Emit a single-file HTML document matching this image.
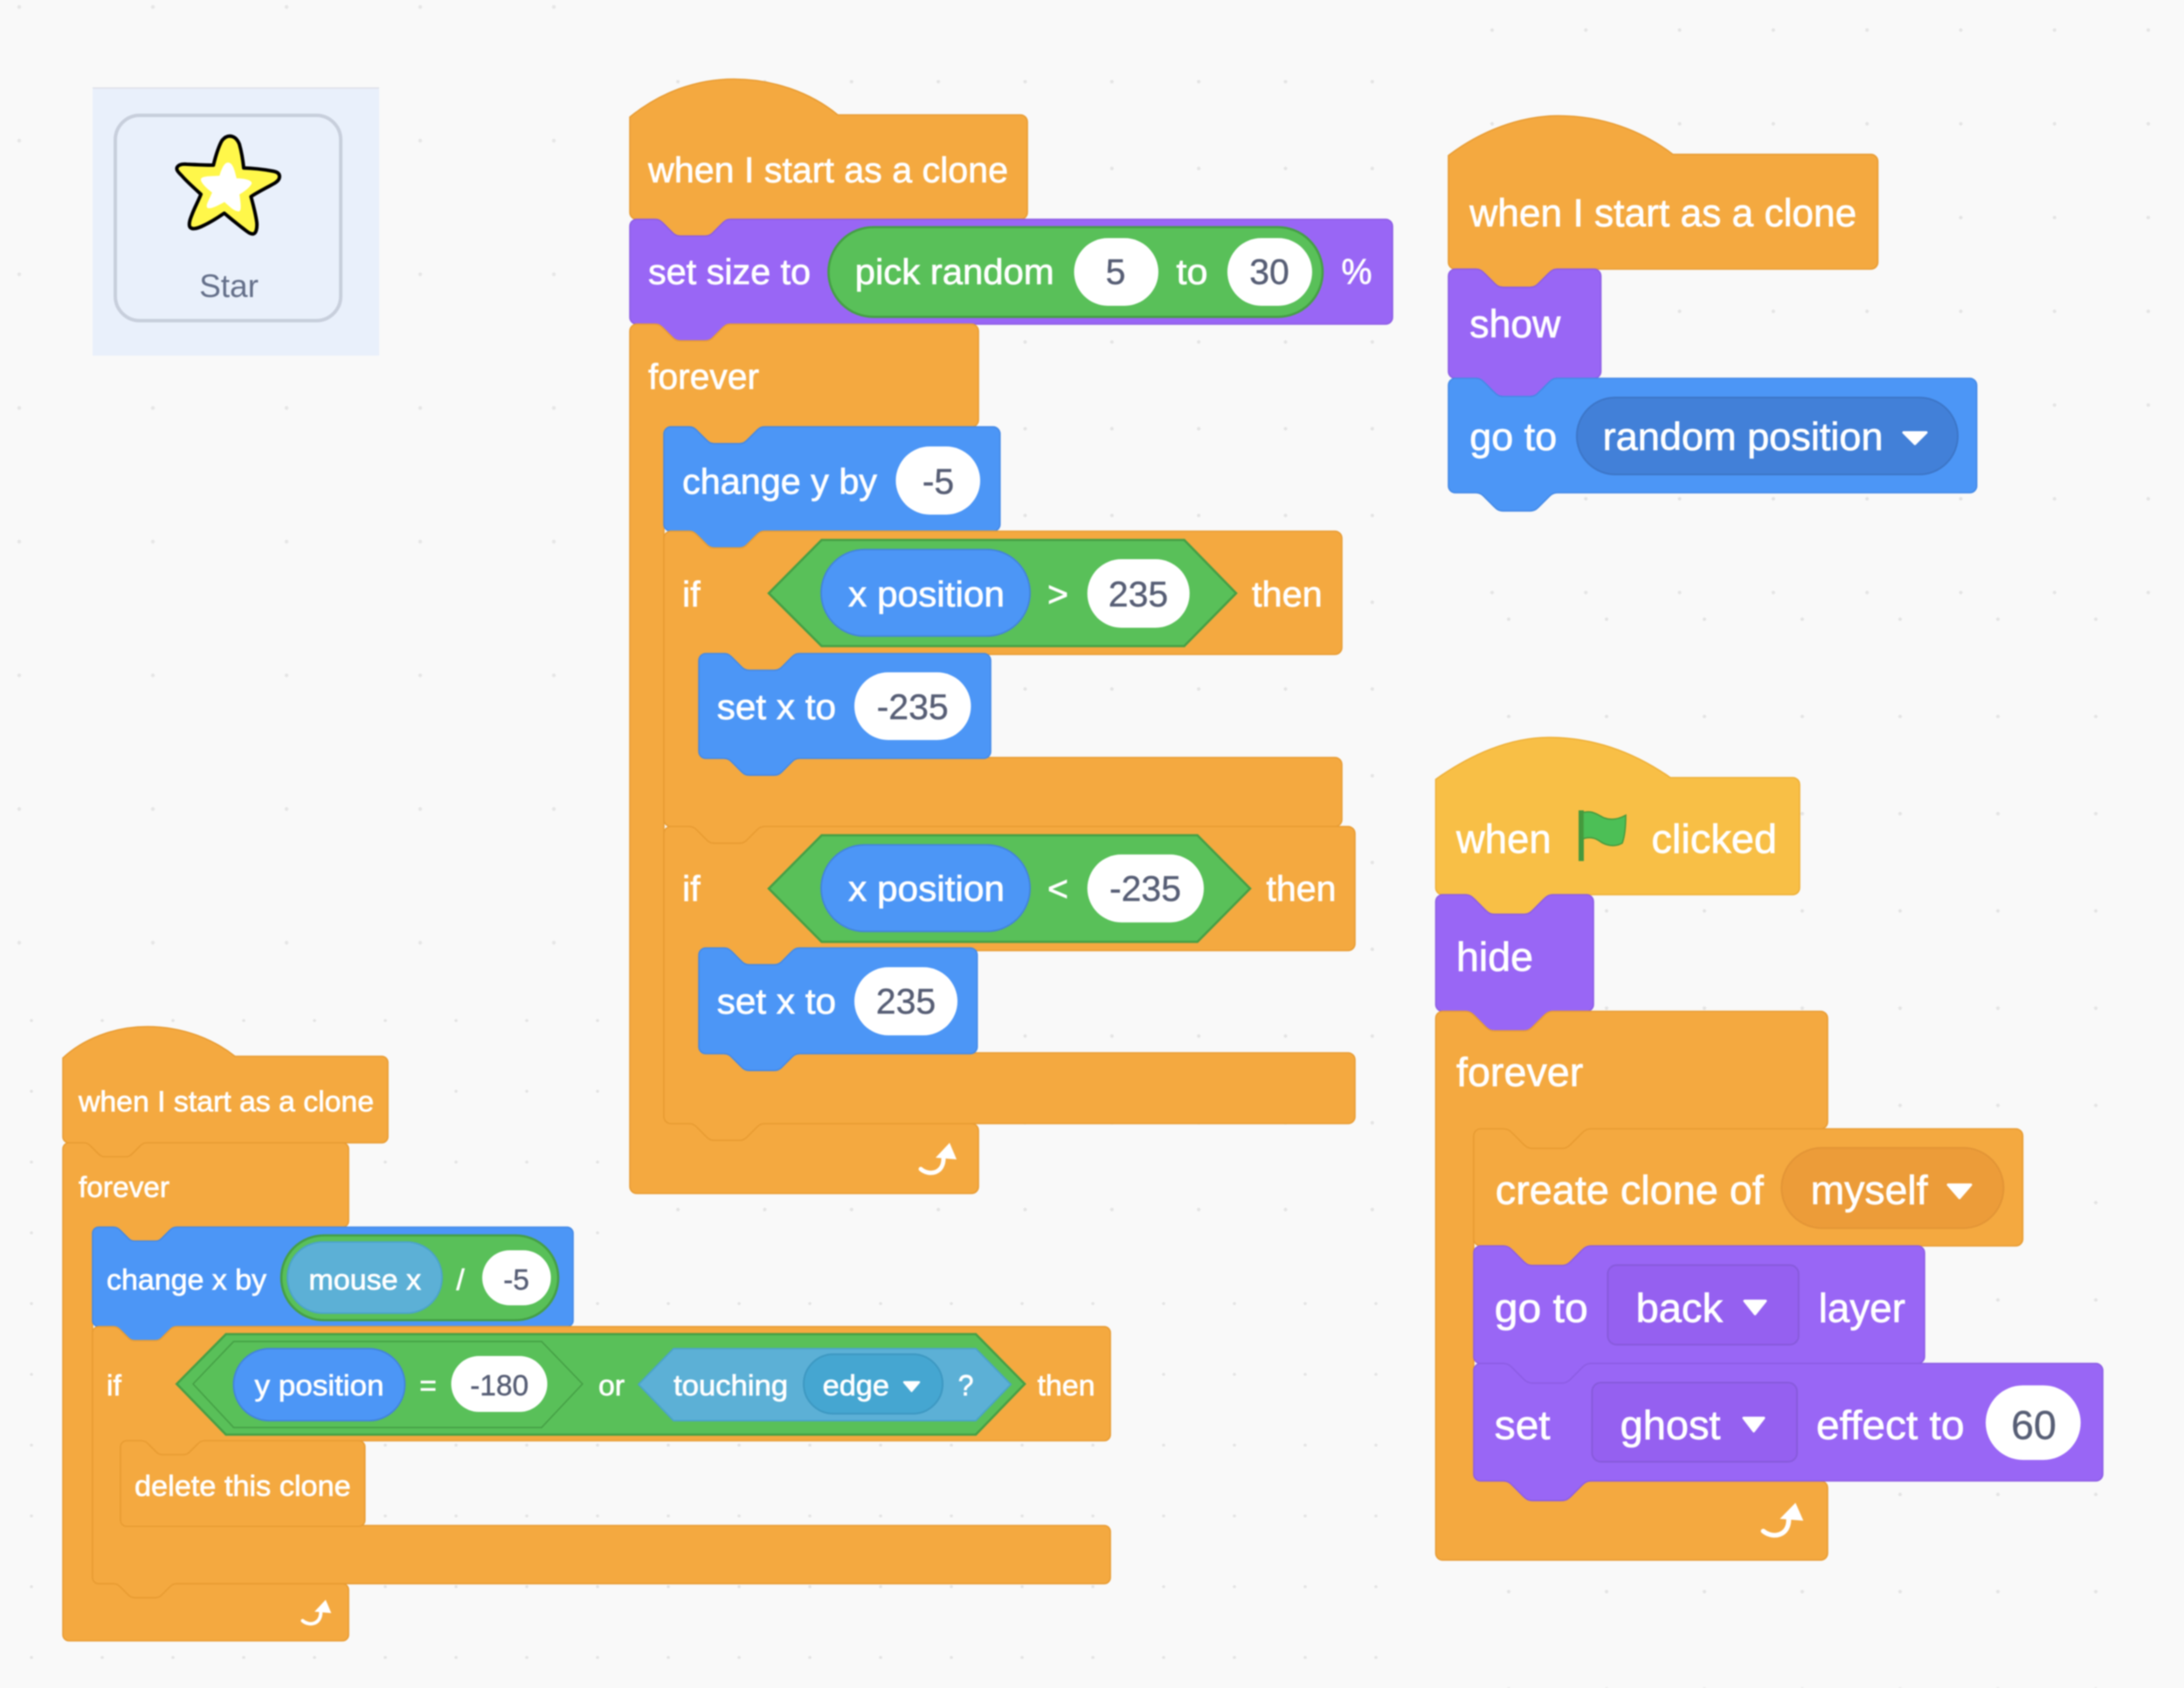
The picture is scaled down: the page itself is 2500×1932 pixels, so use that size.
<!DOCTYPE html>
<html><head><meta charset="utf-8"><title>Scratch blocks</title>
<style>
html,body{margin:0;padding:0;background:#f9f9f9}
svg{display:block;filter:blur(.7px)}
text{font-family:"Liberation Sans",Arial,sans-serif;fill:#fff;stroke:#fff;stroke-width:.7px}
.n{fill:#575e75;stroke:#575e75;stroke-width:.4px}
.m{text-anchor:middle}
.o{fill:#f4a940;stroke:#e89c33;stroke-width:1.6}
.p{fill:#9966f5;stroke:#8d5de4;stroke-width:1.6}
.b{fill:#4c96f6;stroke:#4489e6;stroke-width:1.6}
.y{fill:#f8bf46;stroke:#eeb038;stroke-width:1.6}
.g{fill:#59c059;stroke:#459f45;stroke-width:2.6}
.r{fill:#4c96f6;stroke:#4283dc;stroke-width:1.8}
.s{fill:#5cb0d6;stroke:#4ba3ca;stroke-width:1.8}
.w{fill:#fff}
</style></head>
<body>
<svg xmlns="http://www.w3.org/2000/svg" width="2500" height="1932" viewBox="0 0 2500 1932">
<defs>
<pattern id="d1" patternUnits="userSpaceOnUse" x="17" y="3" width="153" height="153"><circle cx="5" cy="5" r="2.2" fill="#e6e6e6"/></pattern>
<pattern id="d2" patternUnits="userSpaceOnUse" x="75.6" y="-10.8" width="99.35" height="99.3"><circle cx="5" cy="5" r="2" fill="#e4e4e4"/></pattern>
<pattern id="d3" patternUnits="userSpaceOnUse" x="31" y="1163" width="81" height="81"><circle cx="5" cy="5" r="1.8" fill="#e4e4e4"/></pattern>
<pattern id="d4" patternUnits="userSpaceOnUse" x="1703" y="29.4" width="107.3" height="107.3"><circle cx="5" cy="5" r="2" fill="#e4e4e4"/></pattern>
<pattern id="d5" patternUnits="userSpaceOnUse" x="1834" y="815" width="112" height="111.3"><circle cx="5" cy="5" r="2" fill="#e4e4e4"/></pattern>
</defs>
<rect width="2500" height="1932" fill="#f9f9f9"/>
<rect x="0" y="0" width="690" height="1160" fill="url(#d1)"/>
<rect x="690" y="0" width="940" height="1420" fill="url(#d2)"/>
<rect x="0" y="1160" width="690" height="772" fill="url(#d3)"/>
<rect x="690" y="1420" width="940" height="512" fill="url(#d3)"/>
<rect x="1630" y="0" width="870" height="700" fill="url(#d4)"/>
<rect x="1630" y="700" width="870" height="1232" fill="url(#d5)"/>

<!-- Sprite panel -->
<rect x="106" y="100" width="328" height="307" fill="#e9f0fb"/>
<rect x="106" y="100" width="328" height="1.5" fill="#dde1e8"/>
<rect x="132" y="132" width="258" height="235" rx="28" ry="28" fill="#e9f0fb" stroke="#c8cfdc" stroke-width="4"/>
<path d="M263.3 155.7C269 156 272 160 274 165C276 172 278 183 279 192.3C290 192.5 302 194 313 196C318 197 320 199 320 202C320 206 316 209 312 211C303 216 295 220 287.3 225C290 235 293 246 294 255C294.5 262 293 267 290 267.7C286 268 283 265 279 262C271 256 264 250 256.7 244C248 250 238 256 230 259.5C224 262 218.5 263 217 259C216 255 218 250 220 245C223 237 227 230 230 222.3C222 215 214 208 208 201C204 197 201 194 203 191C205 188 209 187.5 214 188C224 188.5 234 189 244.3 189C247 178 250 168 254 161C257 157 260 155.7 263.3 155.7Z" fill="#fff74a" stroke="#000" stroke-width="4" stroke-linejoin="round"/>
<path d="M261 187C266 187 268 197 270 205C278 205 288 207 287 210C285 214 278 219 273 222C274 229 276 241 273 241C268 241 262 234 257 230C250 234 240 239 238 237C236 235 242 226 244 220C238 216 230 208 231 205C233 202 245 203 252 202C254 195 257 187 261 187Z" fill="#fff" stroke="#fff" stroke-width="2" stroke-linejoin="round"/>
<text x="262" y="340" font-size="37" class="m" style="fill:#65708a;stroke:none">Star</text>

<!-- Stack A -->
<g font-size="41">
<path class="o" d="M721 134C755 106 797 90.5 840 90.5C885 90.5 928 106 959 131.5H1168a8 8 0 0 1 8 8V243a8 8 0 0 1-8 8H836.2c-4.8 0-7.2 2.4-9.6 4.8l-9.6 9.6c-2.4 2.4-4.8 4.8-9.6 4.8h-28.8c-4.8 0-7.2-2.4-9.6-4.8l-9.6-9.6c-2.4-2.4-4.8-4.8-9.6-4.8H729a8 8 0 0 1-8-8Z"/>
<path class="p" d="M721 259a8 8 0 0 1 8-8H749.8c4.8 0 7.2 2.4 9.6 4.8l9.6 9.6c2.4 2.4 4.8 4.8 9.6 4.8h28.8c4.8 0 7.2-2.4 9.6-4.8l9.6-9.6c2.4-2.4 4.8-4.8 9.6-4.8H1586a8 8 0 0 1 8 8V363a8 8 0 0 1-8 8H836.2c-4.8 0-7.2 2.4-9.6 4.8l-9.6 9.6c-2.4 2.4-4.8 4.8-9.6 4.8h-28.8c-4.8 0-7.2-2.4-9.6-4.8l-9.6-9.6c-2.4-2.4-4.8-4.8-9.6-4.8H729a8 8 0 0 1-8-8Z"/>
<path class="o" d="M721 379a8 8 0 0 1 8-8H749.8c4.8 0 7.2 2.4 9.6 4.8l9.6 9.6c2.4 2.4 4.8 4.8 9.6 4.8h28.8c4.8 0 7.2-2.4 9.6-4.8l9.6-9.6c2.4-2.4 4.8-4.8 9.6-4.8H1112a8 8 0 0 1 8 8V480.6a8 8 0 0 1-8 8H875.2c-4.8 0-7.2 2.4-9.6 4.8l-9.6 9.6c-2.4 2.4-4.8 4.8-9.6 4.8h-28.8c-4.8 0-7.2-2.4-9.6-4.8l-9.6-9.6c-2.4-2.4-4.8-4.8-9.6-4.8H768a8 8 0 0 0-8 8V1278a8 8 0 0 0 8 8H788.8c4.8 0 7.2 2.4 9.6 4.8l9.6 9.6c2.4 2.4 4.8 4.8 9.6 4.8h28.8c4.8 0 7.2-2.4 9.6-4.8l9.6-9.6c2.4-2.4 4.8-4.8 9.6-4.8H1112a8 8 0 0 1 8 8V1358a8 8 0 0 1-8 8H729a8 8 0 0 1-8-8Z"/>
<path class="b" d="M760 496.6a8 8 0 0 1 8-8H788.8c4.8 0 7.2 2.4 9.6 4.8l9.6 9.6c2.4 2.4 4.8 4.8 9.6 4.8h28.8c4.8 0 7.2-2.4 9.6-4.8l9.6-9.6c2.4-2.4 4.8-4.8 9.6-4.8H1136.7a8 8 0 0 1 8 8V600a8 8 0 0 1-8 8H875.2c-4.8 0-7.2 2.4-9.6 4.8l-9.6 9.6c-2.4 2.4-4.8 4.8-9.6 4.8h-28.8c-4.8 0-7.2-2.4-9.6-4.8l-9.6-9.6c-2.4-2.4-4.8-4.8-9.6-4.8H768a8 8 0 0 1-8-8Z"/>
<path class="o" d="M760 616a8 8 0 0 1 8-8H788.8c4.8 0 7.2 2.4 9.6 4.8l9.6 9.6c2.4 2.4 4.8 4.8 9.6 4.8h28.8c4.8 0 7.2-2.4 9.6-4.8l9.6-9.6c2.4-2.4 4.8-4.8 9.6-4.8H1528a8 8 0 0 1 8 8V741a8 8 0 0 1-8 8H915.2c-4.8 0-7.2 2.4-9.6 4.8l-9.6 9.6c-2.4 2.4-4.8 4.8-9.6 4.8h-28.8c-4.8 0-7.2-2.4-9.6-4.8l-9.6-9.6c-2.4-2.4-4.8-4.8-9.6-4.8H808a8 8 0 0 0-8 8V859a8 8 0 0 0 8 8H828.8c4.8 0 7.2 2.4 9.6 4.8l9.6 9.6c2.4 2.4 4.8 4.8 9.6 4.8h28.8c4.8 0 7.2-2.4 9.6-4.8l9.6-9.6c2.4-2.4 4.8-4.8 9.6-4.8H1528a8 8 0 0 1 8 8V938a8 8 0 0 1-8 8H875.2c-4.8 0-7.2 2.4-9.6 4.8l-9.6 9.6c-2.4 2.4-4.8 4.8-9.6 4.8h-28.8c-4.8 0-7.2-2.4-9.6-4.8l-9.6-9.6c-2.4-2.4-4.8-4.8-9.6-4.8H768a8 8 0 0 1-8-8Z"/>
<path class="b" d="M800 756a8 8 0 0 1 8-8H828.8c4.8 0 7.2 2.4 9.6 4.8l9.6 9.6c2.4 2.4 4.8 4.8 9.6 4.8h28.8c4.8 0 7.2-2.4 9.6-4.8l9.6-9.6c2.4-2.4 4.8-4.8 9.6-4.8H1126a8 8 0 0 1 8 8V860a8 8 0 0 1-8 8H915.2c-4.8 0-7.2 2.4-9.6 4.8l-9.6 9.6c-2.4 2.4-4.8 4.8-9.6 4.8h-28.8c-4.8 0-7.2-2.4-9.6-4.8l-9.6-9.6c-2.4-2.4-4.8-4.8-9.6-4.8H808a8 8 0 0 1-8-8Z"/>
<path class="o" d="M760 954a8 8 0 0 1 8-8H788.8c4.8 0 7.2 2.4 9.6 4.8l9.6 9.6c2.4 2.4 4.8 4.8 9.6 4.8h28.8c4.8 0 7.2-2.4 9.6-4.8l9.6-9.6c2.4-2.4 4.8-4.8 9.6-4.8H1543a8 8 0 0 1 8 8V1080a8 8 0 0 1-8 8H915.2c-4.8 0-7.2 2.4-9.6 4.8l-9.6 9.6c-2.4 2.4-4.8 4.8-9.6 4.8h-28.8c-4.8 0-7.2-2.4-9.6-4.8l-9.6-9.6c-2.4-2.4-4.8-4.8-9.6-4.8H808a8 8 0 0 0-8 8V1197a8 8 0 0 0 8 8H828.8c4.8 0 7.2 2.4 9.6 4.8l9.6 9.6c2.4 2.4 4.8 4.8 9.6 4.8h28.8c4.8 0 7.2-2.4 9.6-4.8l9.6-9.6c2.4-2.4 4.8-4.8 9.6-4.8H1543a8 8 0 0 1 8 8V1278a8 8 0 0 1-8 8H875.2c-4.8 0-7.2 2.4-9.6 4.8l-9.6 9.6c-2.4 2.4-4.8 4.8-9.6 4.8h-28.8c-4.8 0-7.2-2.4-9.6-4.8l-9.6-9.6c-2.4-2.4-4.8-4.8-9.6-4.8H768a8 8 0 0 1-8-8Z"/>
<path class="b" d="M800 1093a8 8 0 0 1 8-8H828.8c4.8 0 7.2 2.4 9.6 4.8l9.6 9.6c2.4 2.4 4.8 4.8 9.6 4.8h28.8c4.8 0 7.2-2.4 9.6-4.8l9.6-9.6c2.4-2.4 4.8-4.8 9.6-4.8H1110.6a8 8 0 0 1 8 8V1198a8 8 0 0 1-8 8H915.2c-4.8 0-7.2 2.4-9.6 4.8l-9.6 9.6c-2.4 2.4-4.8 4.8-9.6 4.8h-28.8c-4.8 0-7.2-2.4-9.6-4.8l-9.6-9.6c-2.4-2.4-4.8-4.8-9.6-4.8H808a8 8 0 0 1-8-8Z"/>

<text x="742" y="208.5" textLength="412" lengthAdjust="spacingAndGlyphs">when I start as a clone</text>
<text x="742" y="325" textLength="186" lengthAdjust="spacingAndGlyphs">set size to</text>
<rect class="g" x="948.4" y="260" width="565.6" height="102.7" rx="51.3"/>
<text x="978.7" y="325" textLength="228" lengthAdjust="spacingAndGlyphs">pick random</text>
<rect class="w" x="1229.5" y="272.5" width="96.5" height="77.5" rx="38.7"/>
<text class="n m" x="1277" y="325">5</text>
<text x="1346.5" y="325" textLength="36" lengthAdjust="spacingAndGlyphs">to</text>
<rect class="w" x="1405" y="272.5" width="97" height="77.5" rx="38.7"/>
<text class="n m" x="1453" y="325">30</text>
<text x="1535.5" y="325" textLength="35" lengthAdjust="spacingAndGlyphs">%</text>
<text x="742" y="445" textLength="127" lengthAdjust="spacingAndGlyphs">forever</text>
<text x="781" y="565" textLength="223" lengthAdjust="spacingAndGlyphs">change y by</text>
<rect class="w" x="1025.4" y="511" width="96.6" height="78" rx="39"/>
<text class="n m" x="1074" y="565">-5</text>

<text x="781" y="694">if</text>
<path class="g" d="M880 679L940.5 618H1355.6L1415 679L1355.6 739.5H940.5Z"/>
<rect class="r" x="940" y="629" width="239" height="99" rx="49.5"/>
<text x="971" y="694" textLength="179" lengthAdjust="spacingAndGlyphs">x position</text>
<text class="m" x="1211" y="694">&gt;</text>
<rect class="w" x="1244.7" y="640" width="117" height="78.5" rx="39"/>
<text class="n m" x="1303" y="694">235</text>
<text x="1433" y="694" textLength="80.7" lengthAdjust="spacingAndGlyphs">then</text>

<text x="820.6" y="823" textLength="136.4" lengthAdjust="spacingAndGlyphs">set x to</text>
<rect class="w" x="978" y="769.5" width="133.4" height="77.5" rx="38.7"/>
<text class="n m" x="1044.7" y="823">-235</text>

<text x="781" y="1031">if</text>
<path class="g" d="M880 1017L940.5 956H1370.7L1431 1017L1370.7 1078H940.5Z"/>
<rect class="r" x="940" y="967" width="239" height="99" rx="49.5"/>
<text x="971" y="1031" textLength="179" lengthAdjust="spacingAndGlyphs">x position</text>
<text class="m" x="1211" y="1031">&lt;</text>
<rect class="w" x="1244.7" y="978" width="133.3" height="77.7" rx="38.8"/>
<text class="n m" x="1311" y="1031">-235</text>
<text x="1449.5" y="1031" textLength="80" lengthAdjust="spacingAndGlyphs">then</text>

<text x="820.6" y="1160" textLength="136.4" lengthAdjust="spacingAndGlyphs">set x to</text>
<rect class="w" x="978" y="1107" width="118" height="78" rx="39"/>
<text class="n m" x="1037" y="1160">235</text>
<g transform="translate(1051 1308)"><path d="M3 30C12 38 30 36 29 16" fill="none" stroke="#fff" stroke-width="5" stroke-linecap="round"/><path d="M20 17L36 0L44 19Z" fill="#fff"/></g>
</g>

<!-- Stack B -->
<g font-size="44.3">
<path class="o" d="M1658 178C1695 150 1740 132.5 1784 132.5C1835 132.5 1880 150 1915 176.7H2141.5a8 8 0 0 1 8 8V300a8 8 0 0 1-8 8H1782.8c-5.2 0-7.8 2.6-10.4 5.2l-10.4 10.4c-2.6 2.6-5.2 5.2-10.4 5.2h-31.2c-5.2 0-7.8-2.6-10.4-5.2l-10.4-10.4c-2.6-2.6-5.2-5.2-10.4-5.2H1666a8 8 0 0 1-8-8Z"/>
<path class="p" d="M1658 316a8 8 0 0 1 8-8H1689.2c5.2 0 7.8 2.6 10.4 5.2l10.4 10.4c2.6 2.6 5.2 5.2 10.4 5.2h31.2c5.2 0 7.8-2.6 10.4-5.2l10.4-10.4c2.6-2.6 5.2-5.2 10.4-5.2H1824.5a8 8 0 0 1 8 8V425a8 8 0 0 1-8 8H1782.8c-5.2 0-7.8 2.6-10.4 5.2l-10.4 10.4c-2.6 2.6-5.2 5.2-10.4 5.2h-31.2c-5.2 0-7.8-2.6-10.4-5.2l-10.4-10.4c-2.6-2.6-5.2-5.2-10.4-5.2H1666a8 8 0 0 1-8-8Z"/>
<path class="b" d="M1658 441a8 8 0 0 1 8-8H1689.2c5.2 0 7.8 2.6 10.4 5.2l10.4 10.4c2.6 2.6 5.2 5.2 10.4 5.2h31.2c5.2 0 7.8-2.6 10.4-5.2l10.4-10.4c2.6-2.6 5.2-5.2 10.4-5.2H2254.7a8 8 0 0 1 8 8V556a8 8 0 0 1-8 8H1782.8c-5.2 0-7.8 2.6-10.4 5.2l-10.4 10.4c-2.6 2.6-5.2 5.2-10.4 5.2h-31.2c-5.2 0-7.8-2.6-10.4-5.2l-10.4-10.4c-2.6-2.6-5.2-5.2-10.4-5.2H1666a8 8 0 0 1-8-8Z"/>
<text x="1682.3" y="259" textLength="443" lengthAdjust="spacingAndGlyphs">when I start as a clone</text>
<text x="1682.3" y="386" textLength="104" lengthAdjust="spacingAndGlyphs">show</text>
<text x="1682.3" y="515" textLength="100" lengthAdjust="spacingAndGlyphs">go to</text>
<rect x="1805" y="455" width="436" height="88" rx="44" fill="#4280d8" stroke="#3d76c8" stroke-width="2"/>
<text x="1834.6" y="515" textLength="321" lengthAdjust="spacingAndGlyphs">random position</text>
<path d="M2179 495L2205 495L2192 508Z" fill="#fff" stroke="#fff" stroke-width="3" stroke-linejoin="round"/>
</g>

<!-- Stack C -->
<g font-size="46.5">
<path class="y" d="M1643.5 892C1683 864 1728 844 1773 844C1825 844 1872 862 1912 890H2052a8 8 0 0 1 8 8V1016a8 8 0 0 1-8 8H1777.9c-5.6 0-8.4 2.8-11.2 5.6l-11.2 11.2c-2.8 2.8-5.6 5.6-11.2 5.6h-33.6c-5.6 0-8.4-2.8-11.2-5.6l-11.2-11.2c-2.8-2.8-5.6-5.6-11.2-5.6H1651.5a8 8 0 0 1-8-8Z"/>
<path class="p" d="M1643.5 1032a8 8 0 0 1 8-8H1677.1c5.6 0 8.4 2.8 11.2 5.6l11.2 11.2c2.8 2.8 5.6 5.6 11.2 5.6h33.6c5.6 0 8.4-2.8 11.2-5.6l11.2-11.2c2.8-2.8 5.6-5.6 11.2-5.6H1816a8 8 0 0 1 8 8V1149.5a8 8 0 0 1-8 8H1777.9c-5.6 0-8.4 2.8-11.2 5.6l-11.2 11.2c-2.8 2.8-5.6 5.6-11.2 5.6h-33.6c-5.6 0-8.4-2.8-11.2-5.6l-11.2-11.2c-2.8-2.8-5.6-5.6-11.2-5.6H1651.5a8 8 0 0 1-8-8Z"/>
<path class="o" d="M1643.5 1165.5a8 8 0 0 1 8-8H1677.1c5.6 0 8.4 2.8 11.2 5.6l11.2 11.2c2.8 2.8 5.6 5.6 11.2 5.6h33.6c5.6 0 8.4-2.8 11.2-5.6l11.2-11.2c2.8-2.8 5.6-5.6 11.2-5.6H2084a8 8 0 0 1 8 8V1284a8 8 0 0 1-8 8H1821.4c-5.6 0-8.4 2.8-11.2 5.6l-11.2 11.2c-2.8 2.8-5.6 5.6-11.2 5.6h-33.6c-5.6 0-8.4-2.8-11.2-5.6l-11.2-11.2c-2.8-2.8-5.6-5.6-11.2-5.6H1695a8 8 0 0 0-8 8V1687a8 8 0 0 0 8 8H1720.6c5.6 0 8.4 2.8 11.2 5.6l11.2 11.2c2.8 2.8 5.6 5.6 11.2 5.6h33.6c5.6 0 8.4-2.8 11.2-5.6l11.2-11.2c2.8-2.8 5.6-5.6 11.2-5.6H2084a8 8 0 0 1 8 8V1777.6a8 8 0 0 1-8 8H1651.5a8 8 0 0 1-8-8Z"/>
<path class="o" d="M1687 1300a8 8 0 0 1 8-8H1720.6c5.6 0 8.4 2.8 11.2 5.6l11.2 11.2c2.8 2.8 5.6 5.6 11.2 5.6h33.6c5.6 0 8.4-2.8 11.2-5.6l11.2-11.2c2.8-2.8 5.6-5.6 11.2-5.6H2307.4a8 8 0 0 1 8 8V1418a8 8 0 0 1-8 8H1821.4c-5.6 0-8.4 2.8-11.2 5.6l-11.2 11.2c-2.8 2.8-5.6 5.6-11.2 5.6h-33.6c-5.6 0-8.4-2.8-11.2-5.6l-11.2-11.2c-2.8-2.8-5.6-5.6-11.2-5.6H1695a8 8 0 0 1-8-8Z"/>
<path class="p" d="M1687 1434a8 8 0 0 1 8-8H1720.6c5.6 0 8.4 2.8 11.2 5.6l11.2 11.2c2.8 2.8 5.6 5.6 11.2 5.6h33.6c5.6 0 8.4-2.8 11.2-5.6l11.2-11.2c2.8-2.8 5.6-5.6 11.2-5.6H2195a8 8 0 0 1 8 8V1552.6a8 8 0 0 1-8 8H1821.4c-5.6 0-8.4 2.8-11.2 5.6l-11.2 11.2c-2.8 2.8-5.6 5.6-11.2 5.6h-33.6c-5.6 0-8.4-2.8-11.2-5.6l-11.2-11.2c-2.8-2.8-5.6-5.6-11.2-5.6H1695a8 8 0 0 1-8-8Z"/>
<path class="p" d="M1687 1568.6a8 8 0 0 1 8-8H1720.6c5.6 0 8.4 2.8 11.2 5.6l11.2 11.2c2.8 2.8 5.6 5.6 11.2 5.6h33.6c5.6 0 8.4-2.8 11.2-5.6l11.2-11.2c2.8-2.8 5.6-5.6 11.2-5.6H2399a8 8 0 0 1 8 8V1687a8 8 0 0 1-8 8H1821.4c-5.6 0-8.4 2.8-11.2 5.6l-11.2 11.2c-2.8 2.8-5.6 5.6-11.2 5.6h-33.6c-5.6 0-8.4-2.8-11.2-5.6l-11.2-11.2c-2.8-2.8-5.6-5.6-11.2-5.6H1695a8 8 0 0 1-8-8Z"/>

<text x="1667" y="976" textLength="108.6" lengthAdjust="spacingAndGlyphs">when</text>
<rect x="1807" y="927.5" width="6" height="58" fill="#45993d"/>
<path d="M1812 930C1822 927 1828 932 1836 936C1844 939 1852 938 1861 933C1861 945 1860 957 1857 965C1848 970 1838 968 1830 962C1824 958 1818 958 1812 960Z" fill="#4cbf56" stroke="#45993d" stroke-width="1.5"/>
<text x="1890.4" y="976" textLength="143.6" lengthAdjust="spacingAndGlyphs">clicked</text>
<text x="1667" y="1111" textLength="88" lengthAdjust="spacingAndGlyphs">hide</text>
<text x="1667" y="1243" textLength="145.3" lengthAdjust="spacingAndGlyphs">forever</text>
<text x="1711.8" y="1378" textLength="307" lengthAdjust="spacingAndGlyphs">create clone of</text>
<rect x="2039.4" y="1313.8" width="254" height="91.8" rx="45.9" fill="#ec9c39" stroke="#e39536" stroke-width="2"/>
<text x="2072.6" y="1378" textLength="134" lengthAdjust="spacingAndGlyphs">myself</text>
<path d="M2230 1356L2256 1356L2243 1371Z" fill="#fff" stroke="#fff" stroke-width="3" stroke-linejoin="round"/>
<text x="1710.8" y="1513" textLength="107" lengthAdjust="spacingAndGlyphs">go to</text>
<rect x="1840.4" y="1448" width="218.4" height="91" rx="10" fill="#9560f0" stroke="#885bdc" stroke-width="2"/>
<text x="1872.6" y="1513" textLength="99.4" lengthAdjust="spacingAndGlyphs">back</text>
<path d="M1997 1489L2021 1489L2009 1504Z" fill="#fff" stroke="#fff" stroke-width="3" stroke-linejoin="round"/>
<text x="2081.7" y="1513" textLength="99.3" lengthAdjust="spacingAndGlyphs">layer</text>
<text x="1710.8" y="1647" textLength="63.8" lengthAdjust="spacingAndGlyphs">set</text>
<rect x="1822.5" y="1582.5" width="234.5" height="90.5" rx="10" fill="#9560f0" stroke="#885bdc" stroke-width="2"/>
<text x="1854.7" y="1647" textLength="114.8" lengthAdjust="spacingAndGlyphs">ghost</text>
<path d="M1996 1623L2019 1623L2007.5 1638Z" fill="#fff" stroke="#fff" stroke-width="3" stroke-linejoin="round"/>
<text x="2079" y="1647" textLength="169.6" lengthAdjust="spacingAndGlyphs">effect to</text>
<rect class="w" x="2273" y="1585.6" width="108.7" height="85.4" rx="42.7"/>
<text class="n m" x="2328" y="1647">60</text>
<g transform="translate(2015 1720) scale(1.12 1.08)"><path d="M3 30C12 38 30 36 29 16" fill="none" stroke="#fff" stroke-width="5" stroke-linecap="round"/><path d="M20 17L36 0L44 19Z" fill="#fff"/></g>
</g>

<!-- Stack D -->
<g font-size="33.5">
<path class="o" d="M72 1211C94 1190 130 1175 168.6 1175C210 1175 245 1190 269 1209H437a7 7 0 0 1 7 7V1301a7 7 0 0 1-7 7H168c-4 0-6 2-8 4l-8 8c-2 2-4 4-8 4h-24c-4 0-6-2-8-4l-8-8c-2-2-4-4-8-4H79a7 7 0 0 1-7-7Z"/>
<path class="o" d="M72 1315a7 7 0 0 1 7-7H96c4 0 6 2 8 4l8 8c2 2 4 4 8 4h24c4 0 6-2 8-4l8-8c2-2 4-4 8-4H392a7 7 0 0 1 7 7V1397.5a7 7 0 0 1-7 7H202c-4 0-6 2-8 4l-8 8c-2 2-4 4-8 4h-24c-4 0-6-2-8-4l-8-8c-2-2-4-4-8-4H113a7 7 0 0 0-7 7V1805.6a7 7 0 0 0 7 7H130c4 0 6 2 8 4l8 8c2 2 4 4 8 4h24c4 0 6-2 8-4l8-8c2-2 4-4 8-4H392a7 7 0 0 1 7 7V1871a7 7 0 0 1-7 7H79a7 7 0 0 1-7-7Z"/>
<path class="b" d="M106 1411.5a7 7 0 0 1 7-7H130c4 0 6 2 8 4l8 8c2 2 4 4 8 4h24c4 0 6-2 8-4l8-8c2-2 4-4 8-4H649a7 7 0 0 1 7 7V1511.4a7 7 0 0 1-7 7H202c-4 0-6 2-8 4l-8 8c-2 2-4 4-8 4h-24c-4 0-6-2-8-4l-8-8c-2-2-4-4-8-4H113a7 7 0 0 1-7-7Z"/>
<path class="o" d="M106 1525.4a7 7 0 0 1 7-7H130c4 0 6 2 8 4l8 8c2 2 4 4 8 4h24c4 0 6-2 8-4l8-8c2-2 4-4 8-4H1264a7 7 0 0 1 7 7V1642a7 7 0 0 1-7 7H234c-4 0-6 2-8 4l-8 8c-2 2-4 4-8 4h-24c-4 0-6-2-8-4l-8-8c-2-2-4-4-8-4H145a7 7 0 0 0-7 7V1739a7 7 0 0 0 7 7H1264a7 7 0 0 1 7 7V1805.6a7 7 0 0 1-7 7H202c-4 0-6 2-8 4l-8 8c-2 2-4 4-8 4h-24c-4 0-6-2-8-4l-8-8c-2-2-4-4-8-4H113a7 7 0 0 1-7-7Z"/>
<path class="o" d="M138 1656a7 7 0 0 1 7-7H162c4 0 6 2 8 4l8 8c2 2 4 4 8 4h24c4 0 6-2 8-4l8-8c2-2 4-4 8-4H410.7a7 7 0 0 1 7 7V1740a7 7 0 0 1-7 7H145a7 7 0 0 1-7-7Z"/>

<text x="90" y="1272" textLength="338" lengthAdjust="spacingAndGlyphs">when I start as a clone</text>
<text x="90" y="1370" textLength="104" lengthAdjust="spacingAndGlyphs">forever</text>
<text x="122" y="1476" textLength="183" lengthAdjust="spacingAndGlyphs">change x by</text>
<rect class="g" x="322" y="1414" width="317" height="97" rx="48.5"/>
<rect class="s" x="329" y="1421.5" width="177" height="81.5" rx="40.7"/>
<text x="353.4" y="1476" textLength="128.6" lengthAdjust="spacingAndGlyphs">mouse x</text>
<text class="m" x="527" y="1476">/</text>
<rect class="w" x="552" y="1431" width="78.6" height="63" rx="31.5"/>
<text class="n m" x="591" y="1476">-5</text>

<text x="122" y="1597">if</text>
<path class="g" d="M202.3 1584L258.6 1527H1117L1173 1584L1117 1642H258.6Z"/>
<path class="g" stroke-width="2" style="stroke-width:1.6" d="M221 1584L267.4 1535.4H620L666.8 1584L620 1633.8H267.4Z"/>
<rect class="r" x="267.4" y="1543.6" width="196" height="82.4" rx="41.2"/>
<text x="291.5" y="1597" textLength="148" lengthAdjust="spacingAndGlyphs">y position</text>
<text class="m" x="490" y="1597">=</text>
<rect class="w" x="516.5" y="1552" width="110" height="64" rx="32"/>
<text class="n m" x="571.6" y="1597">-180</text>
<text x="685" y="1597" textLength="30" lengthAdjust="spacingAndGlyphs">or</text>
<path class="s" d="M731 1584.5L771 1543.6H1117L1157 1584.5L1117 1626H771Z"/>
<text x="771" y="1597" textLength="131" lengthAdjust="spacingAndGlyphs">touching</text>
<rect x="920" y="1550" width="159" height="68" rx="34" fill="#45a6d1" stroke="#3d98c2" stroke-width="2"/>
<text x="941.6" y="1597" textLength="76.4" lengthAdjust="spacingAndGlyphs">edge</text>
<path d="M1035 1582L1052 1582L1043.5 1592Z" fill="#fff" stroke="#fff" stroke-width="2.5" stroke-linejoin="round"/>
<text x="1096.7" y="1597" textLength="17.7" lengthAdjust="spacingAndGlyphs">?</text>
<text x="1187.5" y="1597" textLength="66" lengthAdjust="spacingAndGlyphs">then</text>
<text x="154" y="1712" textLength="247.6" lengthAdjust="spacingAndGlyphs">delete this clone</text>
<g transform="translate(344 1831) scale(.8)"><path d="M3 30C12 38 30 36 29 16" fill="none" stroke="#fff" stroke-width="5" stroke-linecap="round"/><path d="M20 17L36 0L44 19Z" fill="#fff"/></g>
</g>
</svg>
</body></html>
